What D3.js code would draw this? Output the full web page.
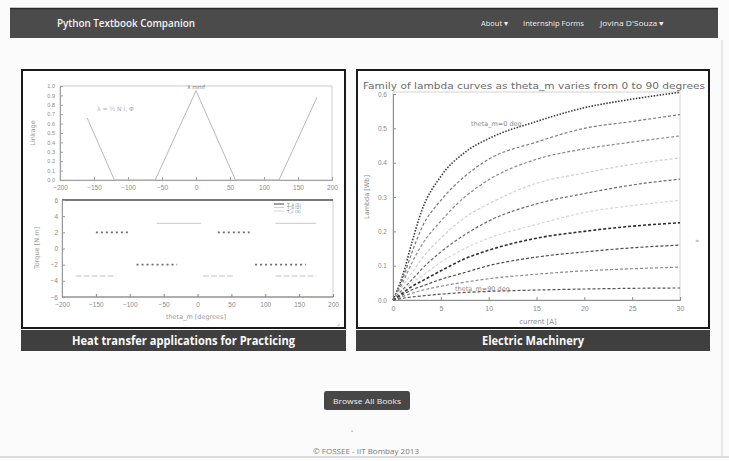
<!DOCTYPE html>
<html><head><meta charset="utf-8">
<script src="https://cdn.jsdelivr.net/npm/d3@7"></script>
<style>
body{margin:0;background:#fff;}
svg{display:block;font-family:"DejaVu Sans",sans-serif;}
</style>
</head><body>
<svg id="c" width="729" height="461"></svg>
<script>
// ---------- page text ----------
const siteTitle = "Python Textbook Companion";
const navItems = ["About ▾", "Internship Forms", "Jovina D'Souza ▾"];
const bookTitles = ["Heat transfer applications for Practicing", "Electric Machinery"];
const buttonLabel = "Browse All Books";
const footerText = "© FOSSEE - IIT Bombay 2013";

// ---------- chart 1 (top-left): linkage vs rotor angle ----------
const linkTheta = [-160, -120, -60, 0, 58, 122, 178];
const linkValue = [0.66, 0, 0, 0.95, 0, 0, 0.88];
const linkXTicks = [-200, -150, -100, -50, 0, 50, 100, 150, 200];
const linkYTicks = [0, 0.1, 0.2, 0.3, 0.4, 0.5, 0.6, 0.7, 0.8, 0.9, 1.0];

// ---------- chart 2 (bottom-left): torque vs theta_m ----------
const torqueXTicks = [-200, -150, -100, -50, 0, 50, 100, 150, 200];
const torqueYTicks = [-6, -4, -2, 0, 2, 4, 6];
const torqueNames = ["T_a", "T_b", "T_c"];
const torqueStart = [[-150, -90, 30, 85], [-60, 115], [-180, 8, 115]];
const torqueEnd   = [[-100, -30, 77, 160], [5, 175], [-120, 53, 175]];
const torqueLevel = [[2, -2, 2, -2], [3.1, 3.1], [-3.4, -3.4, -3.4]];

// ---------- chart 3 (right): family of lambda curves ----------
const currentA = [0, 1, 2, 3, 5, 7.5, 10, 15, 20, 25, 30];
const thetaDeg = [0, 10, 20, 30, 40, 50, 60, 70, 80, 90];
const lambda0  = [0, 0.07, 0.17, 0.26, 0.36, 0.43, 0.47, 0.52, 0.56, 0.585, 0.605];
const lambda10 = [0, 0.06, 0.14, 0.21, 0.29, 0.36, 0.41, 0.46, 0.50, 0.52, 0.54];
const lambda20 = [0, 0.05, 0.11, 0.16, 0.23, 0.30, 0.35, 0.41, 0.44, 0.46, 0.478];
const lambda30 = [0, 0.04, 0.08, 0.12, 0.18, 0.24, 0.28, 0.34, 0.37, 0.395, 0.414];
const lambda40 = [0, 0.03, 0.06, 0.09, 0.14, 0.19, 0.23, 0.28, 0.31, 0.335, 0.352];
const lambda50 = [0, 0.025, 0.05, 0.07, 0.11, 0.15, 0.18, 0.22, 0.255, 0.275, 0.29];
const lambda60 = [0, 0.02, 0.04, 0.055, 0.085, 0.12, 0.145, 0.18, 0.20, 0.215, 0.225];
const lambda70 = [0, 0.015, 0.03, 0.04, 0.06, 0.08, 0.10, 0.125, 0.14, 0.152, 0.16];
const lambda80 = [0, 0.01, 0.02, 0.028, 0.04, 0.052, 0.062, 0.075, 0.085, 0.091, 0.096];
const lambda90 = [0, 0.005, 0.009, 0.012, 0.017, 0.022, 0.025, 0.029, 0.032, 0.034, 0.035];
const lambdaSeries = [lambda0, lambda10, lambda20, lambda30, lambda40, lambda50, lambda60, lambda70, lambda80, lambda90];
const lambdaXTicks = [0, 5, 10, 15, 20, 25, 30];
const lambdaYTicks = [0, 0.1, 0.2, 0.3, 0.4, 0.5, 0.6];

// ---------- drawing ----------
const svg = d3.select("#c");
svg.append("rect").attr("width", 729).attr("height", 461).attr("fill", "#fbfbfb");

// page frame lines
svg.append("line").attr("x1", 722).attr("x2", 722).attr("y1", 40).attr("y2", 456).attr("stroke", "#cfcfcf");
svg.append("line").attr("x1", 0).attr("x2", 729).attr("y1", 457).attr("y2", 457).attr("stroke", "#bdbdbd");

// navbar
svg.append("rect").attr("x", 10).attr("y", 8).attr("width", 708).attr("height", 30).attr("fill", "#4b4b4b");
svg.append("line").attr("x1", 10).attr("x2", 718).attr("y1", 8.5).attr("y2", 8.5).attr("stroke", "#2a2a2a").attr("stroke-width", 1.5);
svg.append("text").attr("x", 57).attr("y", 27).attr("fill", "#f2f2f2").attr("font-family", "Open Sans")
  .attr("font-size", 10).attr("font-weight", 600).attr("textLength", 138).attr("lengthAdjust", "spacingAndGlyphs").text(siteTitle);
const navX = [481, 523, 600], navW = [27, 61, 64];
svg.selectAll(".nav").data(navItems).join("text").attr("class", "nav")
  .attr("x", (d, i) => navX[i]).attr("y", 26).attr("fill", "#eeeeee").attr("font-family", "Open Sans")
  .attr("font-size", 7.5).attr("textLength", (d, i) => navW[i]).attr("lengthAdjust", "spacingAndGlyphs").text(d => d);

// panels
const panels = [{x: 22, y: 70, w: 323, h: 258}, {x: 357, y: 70, w: 352, h: 258}];
panels.forEach((p, i) => {
  svg.append("rect").attr("x", p.x).attr("y", p.y).attr("width", p.w).attr("height", p.h)
    .attr("fill", "#fff").attr("stroke", "#1a1a1a").attr("stroke-width", 2);
  svg.append("rect").attr("x", p.x - 1).attr("y", p.y + p.h + 2).attr("width", p.w + 2).attr("height", 21).attr("fill", "#3f3f3f");
  svg.append("text").attr("x", p.x + p.w / 2).attr("y", p.y + p.h + 17).attr("text-anchor", "middle")
    .attr("fill", "#fafafa").attr("font-family", "Open Sans").attr("font-weight", 700).attr("font-size", 11.5)
    .attr("textLength", i === 0 ? 223 : 102).attr("lengthAdjust", "spacingAndGlyphs").text(bookTitles[i]);
});

function styleAxis(g, col) {
  g.selectAll("path").attr("stroke", col);
  g.selectAll("line").attr("stroke", col);
  g.selectAll("text").attr("fill", "#8a8a8a").attr("font-size", 6.5);
}

// ----- chart 1 -----
{
  const x = d3.scaleLinear().domain([-200, 200]).range([60, 332]);
  const y = d3.scaleLinear().domain([0, 1]).range([180, 86]);
  svg.append("rect").attr("x", 60).attr("y", 86).attr("width", 272).attr("height", 94)
    .attr("fill", "none").attr("stroke", "#bdbdbd").attr("stroke-width", 0.8);
  const gx = svg.append("g").attr("transform", "translate(0,180)")
    .call(d3.axisBottom(x).tickValues(linkXTicks).tickSize(-3).tickPadding(5));
  styleAxis(gx, "#a0a0a0");
  const gy = svg.append("g").attr("transform", "translate(60,0)")
    .call(d3.axisLeft(y).tickValues(linkYTicks).tickSize(-3).tickPadding(5).tickFormat(d3.format(".1f")));
  styleAxis(gy, "#a0a0a0");
  gy.selectAll("text").attr("font-size", 5.5);
  const pts = linkTheta.map((t, i) => [t, linkValue[i]]);
  svg.append("path").datum(pts).attr("fill", "none").attr("stroke", "#b8b8b8").attr("stroke-width", 1)
    .attr("d", d3.line().x(d => x(d[0])).y(d => y(d[1])));
  svg.append("text").attr("x", 35).attr("y", 133).attr("transform", "rotate(-90,35,133)")
    .attr("text-anchor", "middle").attr("font-size", 6.5).attr("fill", "#9a9a9a").text("Linkage");
  svg.append("text").attr("x", x(0)).attr("y", 89).attr("text-anchor", "middle")
    .attr("font-size", 5.5).attr("fill", "#777").text("λ mmf");
  svg.append("text").attr("x", 97).attr("y", 111).attr("font-size", 6).attr("fill", "#aaa").text("λ = ½ N i, Φ");
}

// ----- chart 2 -----
{
  const x = d3.scaleLinear().domain([-200, 200]).range([62, 333]);
  const y = d3.scaleLinear().domain([-6, 6]).range([297, 200]);
  svg.append("rect").attr("x", 62).attr("y", 200).attr("width", 271).attr("height", 97)
    .attr("fill", "none").attr("stroke", "#c4c4c4").attr("stroke-width", 0.8);
  svg.append("line").attr("x1", 62).attr("x2", 333).attr("y1", 200).attr("y2", 200).attr("stroke", "#555").attr("stroke-width", 1.6);
  svg.append("line").attr("x1", 62).attr("x2", 333).attr("y1", 297).attr("y2", 297).attr("stroke", "#777").attr("stroke-width", 1.2);
  const gx = svg.append("g").attr("transform", "translate(0,297)")
    .call(d3.axisBottom(x).tickValues(torqueXTicks).tickSize(-3).tickPadding(5));
  styleAxis(gx, "#888");
  gx.select("path").remove();
  const gy = svg.append("g").attr("transform", "translate(62,0)")
    .call(d3.axisLeft(y).tickValues(torqueYTicks).tickSize(-3).tickPadding(4));
  styleAxis(gy, "#999");
  const styles = [
    {stroke: "#6e6e6e", dash: "2,3", width: 1.6},
    {stroke: "#d2d2d2", dash: null, width: 1.3},
    {stroke: "#d8d8d8", dash: "6,2", width: 1.3}
  ];
  torqueStart.forEach((starts, s) => {
    starts.forEach((st, k) => {
      const seg = [[st, torqueLevel[s][k]], [torqueEnd[s][k], torqueLevel[s][k]]];
      svg.append("path").datum(seg).attr("fill", "none").attr("stroke", styles[s].stroke)
        .attr("stroke-width", styles[s].width).attr("stroke-dasharray", styles[s].dash)
        .attr("d", d3.line().x(d => x(d[0])).y(d => y(d[1])));
    });
  });
  // legend
  torqueNames.forEach((n, i) => {
    svg.append("line").attr("x1", 274).attr("x2", 284).attr("y1", 204 + i * 3.5).attr("y2", 204 + i * 3.5)
      .attr("stroke", i === 0 ? "#444" : styles[i].stroke).attr("stroke-width", 1);
    svg.append("text").attr("x", 287).attr("y", 205.5 + i * 3.5).attr("font-size", 4).attr("fill", "#777").text(n + " (" + (i + 1) + ")");
  });
  svg.append("text").attr("x", 39).attr("y", 248).attr("transform", "rotate(-90,39,248)")
    .attr("text-anchor", "middle").attr("font-size", 6.5).attr("fill", "#9a9a9a").text("Torque [N.m]");
  svg.append("text").attr("x", 196).attr("y", 319).attr("text-anchor", "middle")
    .attr("font-size", 6.5).attr("fill", "#9a9a9a").text("theta_m [degrees]");
  svg.append("text").attr("x", 337).attr("y", 325).attr("font-size", 6).attr("fill", "#888").text("⌟");
}

// ----- chart 3 -----
{
  const x = d3.scaleLinear().domain([0, 30]).range([393, 680]);
  const y = d3.scaleLinear().domain([0, 0.6]).range([300, 94]);
  svg.append("text").attr("x", 363).attr("y", 89).attr("font-size", 9).attr("fill", "#6a6a6a")
    .attr("textLength", 342).attr("lengthAdjust", "spacingAndGlyphs")
    .text("Family of lambda curves as theta_m varies from 0 to 90 degrees");
  svg.append("rect").attr("x", 393).attr("y", 92).attr("width", 287).attr("height", 208)
    .attr("fill", "none").attr("stroke", "#c8c8c8").attr("stroke-width", 0.8);
  const gx = svg.append("g").attr("transform", "translate(0,300)")
    .call(d3.axisBottom(x).tickValues(lambdaXTicks).tickSize(-3).tickPadding(6));
  styleAxis(gx, "#8c8c8c");
  gx.selectAll("text").attr("font-size", 7);
  const gy = svg.append("g").attr("transform", "translate(393,0)")
    .call(d3.axisLeft(y).tickValues(lambdaYTicks).tickSize(-3).tickPadding(6).tickFormat(d3.format(".1f")));
  styleAxis(gy, "#8c8c8c");
  gy.selectAll("text").attr("font-size", 6.5);
  const cols = ["#3a3a3a", "#7a7a7a", "#8a8a8a", "#cfcfcf", "#6a6a6a", "#d6d6d6", "#2f2f2f", "#4a4a4a", "#8d8d8d", "#555"];
  const line = d3.line().x(d => x(d[0])).y(d => y(d[1])).curve(d3.curveMonotoneX);
  lambdaSeries.forEach((vals, k) => {
    const pts = currentA.map((c, i) => [c, vals[i]]);
    svg.append("path").datum(pts).attr("fill", "none").attr("stroke", cols[k])
      .attr("stroke-width", k === 0 || k === 6 ? 1.6 : 1.2).attr("stroke-dasharray", k === 0 ? "1.5,1.5" : "3,2")
      .attr("d", line).attr("data-theta", thetaDeg[k]);
  });
  svg.append("text").attr("x", 471).attr("y", 126).attr("font-size", 6.5).attr("fill", "#8a8a8a").text("theta_m=0 deg");
  svg.append("text").attr("x", 455).attr("y", 291).attr("font-size", 6.5).attr("fill", "#8a8a8a").text("theta_m=90 deg");
  svg.append("text").attr("x", 369).attr("y", 197).attr("transform", "rotate(-90,369,197)")
    .attr("text-anchor", "middle").attr("font-size", 6.5).attr("fill", "#8a8a8a").text("Lambda [Wb]");
  svg.append("text").attr("x", 538).attr("y", 324).attr("text-anchor", "middle")
    .attr("font-size", 7).attr("fill", "#8a8a8a").text("current [A]");
  svg.append("text").attr("x", 695).attr("y", 243).attr("font-size", 7).attr("fill", "#999").text("»");
}

// button & footer
svg.append("rect").attr("x", 324).attr("y", 391).attr("width", 86).attr("height", 19).attr("rx", 2.5).attr("fill", "#474747");
svg.append("text").attr("x", 367).attr("y", 403.5).attr("text-anchor", "middle").attr("fill", "#f0f0f0")
  .attr("font-family", "Open Sans").attr("font-size", 7).attr("textLength", 68).attr("lengthAdjust", "spacingAndGlyphs").text(buttonLabel);
svg.append("text").attr("x", 352).attr("y", 433).attr("text-anchor", "middle").attr("font-size", 5).attr("fill", "#999").text("•");
svg.append("text").attr("x", 366).attr("y", 454).attr("text-anchor", "middle").attr("fill", "#777")
  .attr("font-family", "Open Sans").attr("font-size", 6.5).attr("textLength", 106).attr("lengthAdjust", "spacingAndGlyphs").text(footerText);
</script>
</body></html>
